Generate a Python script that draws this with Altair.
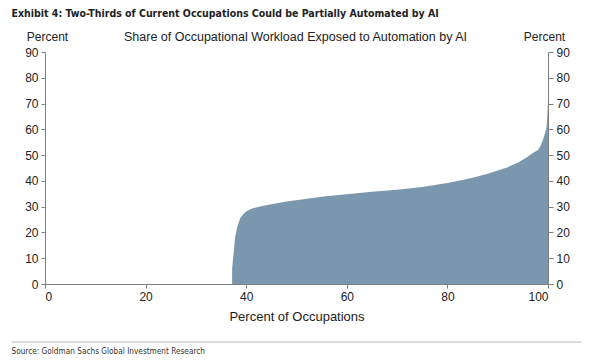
import altair as alt
import pandas as pd

# Share of workload exposed (sorted occupations)
pct_occ = [0, 37.2, 37.2, 37.5, 37.8, 38.2, 38.8, 39.3, 39.8, 40.5, 41.5, 43, 45, 48, 51, 55,
           60, 65, 70, 75, 80, 83, 85, 88, 90, 92, 94, 95.5, 97, 98, 98.5, 99, 99.4, 99.7, 99.85, 100]
share = [0, 0, 6, 12, 18, 22, 25.5, 26.8, 27.8, 28.7, 29.5, 30.2, 30.9, 32, 32.8, 33.8,
         34.8, 35.8, 36.6, 37.6, 39.2, 40.3, 41.2, 42.8, 44, 45.3, 47, 48.8, 50.8, 52, 53.5,
         56, 58.5, 60.5, 65, 71]

x_ticks = [0, 20, 40, 60, 80, 100]
y_ticks = [0, 10, 20, 30, 40, 50, 60, 70, 80, 90]

title_txt = "Exhibit 4: Two-Thirds of Current Occupations Could be Partially Automated by AI"
subtitle_txt = "Share of Occupational Workload Exposed to Automation by AI"
source_txt = "Source: Goldman Sachs Global Investment Research"

df = pd.DataFrame({"pct": pct_occ, "share": share})

FONT = "Liberation Sans"
NARROW = "'DejaVu Sans Condensed', 'Liberation Sans'"
AX = "#7f7f7f"
TXT = "#222222"

x_enc = alt.X("pct:Q", scale=alt.Scale(domain=[0, 100], nice=False),
              axis=alt.Axis(values=x_ticks, title="Percent of Occupations", titleFont=FONT,
                            titleFontSize=13, titleFontWeight="normal", titleColor=TXT,
                            titlePadding=8, labelFont=FONT, labelFontSize=12, labelColor=TXT,
                            labelPadding=3, tickSize=4, domainColor=AX, tickColor=AX,
                            grid=False))

ysc = alt.Scale(domain=[0, 90], nice=False)

area = alt.Chart(df).mark_area(color="#7a97ae", interpolate="linear").encode(
    x=x_enc,
    y=alt.Y("share:Q", scale=ysc,
            axis=alt.Axis(values=y_ticks, orient="left", title=None, labelFont=FONT,
                          labelFontSize=12, labelColor=TXT, labelPadding=3, tickSize=4,
                          domainColor=AX, tickColor=AX, grid=False)),
)

right = alt.Chart(df).mark_point(opacity=0).encode(
    x=alt.X("pct:Q", scale=alt.Scale(domain=[0, 100], nice=False)),
    y=alt.Y("share:Q", scale=ysc,
            axis=alt.Axis(values=y_ticks, orient="right", title=None, labelFont=FONT,
                          labelFontSize=12, labelColor=TXT, labelPadding=3, tickSize=5,
                          domainColor=AX, tickColor=AX, grid=False)),
)

one = alt.Data(values=[{}])

def txt(s, x, y, size=12, font=FONT, weight="normal", align="center", color=TXT):
    return alt.Chart(one).mark_text(text=s, font=font, fontSize=size, fontWeight=weight,
                                    align=align, baseline="middle", color=color).encode(
        x=alt.value(x), y=alt.value(y))

title = txt(title_txt, -33.5, -38.5, size=10.5, font=NARROW, weight="bold", align="left")
sub = txt(subtitle_txt, 250.5, -15.5, size=12.5)
lp = txt("Percent", 2.5, -15.5, size=12)
rp = txt("Percent", 499.5, -15.5, size=12)
src = txt(source_txt, -33.5, 300, size=8.2, font=NARROW, align="left", color="#333333")
sep = alt.Chart(one).mark_rule(color="#dcdcdc", strokeWidth=2).encode(
    x=alt.value(-33.5), x2=alt.value(536.5), y=alt.value(290))

chart = alt.layer(area, right, title, sub, lp, rp, sep, src).resolve_axis(
    y="independent"
).properties(
    width=503, height=232,
    autosize=alt.AutoSizeParams(type="none"),
    padding={"left": 37, "top": 44, "right": 45, "bottom": 72},
).configure_view(stroke=None)

chart.save("out.html", embed_options={"renderer": "svg", "actions": False})
